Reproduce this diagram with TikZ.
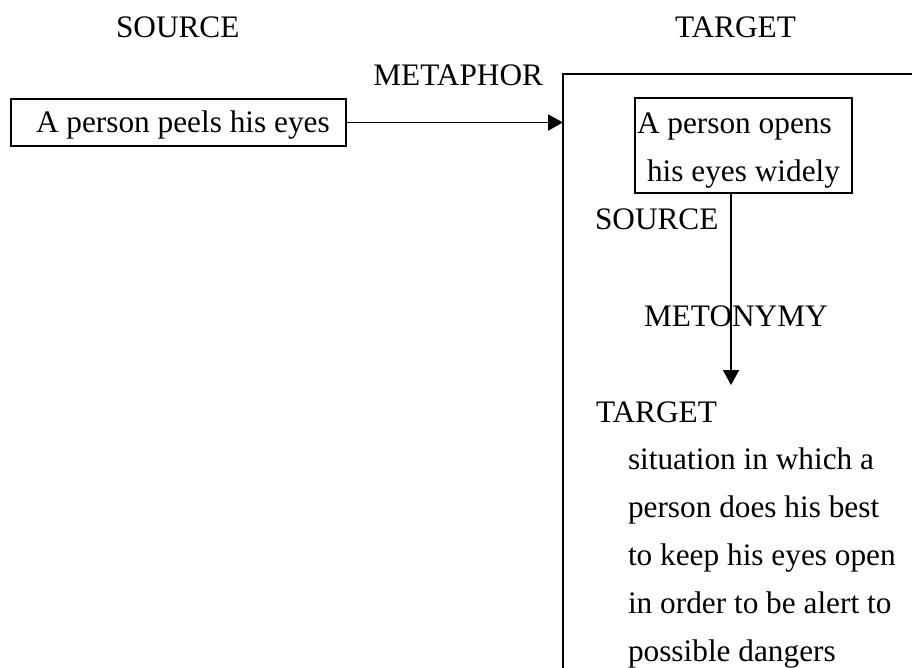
\documentclass[tikz,border=0pt]{standalone}
\usepackage{fontspec}
\setmainfont{Liberation Serif}
\usetikzlibrary{arrows.meta}
\begin{document}
\begin{tikzpicture}[x=1pt,y=-1pt,
  every node/.style={font=\fontsize{31.3}{37}\selectfont, inner sep=0pt, outer sep=0pt},
  lbl/.style={anchor=base west},
  lble/.style={anchor=base east},
  boxnode/.style={draw, line width=1.8pt, anchor=north west},
  frame/.style={line width=1.8pt},
  conn/.style={line width=1.8pt, -{Triangle[length=15pt,width=16pt]}},
  ]
\useasboundingbox (0,0) rectangle (912,668);
\clip (0,0) rectangle (912,668);
% headings
\node[lbl] (hsrc) at (116,38) {SOURCE};
\node[lbl] (htgt) at (675,38) {TARGET};
\node[lble] (meta) at (543,86) {METAPHOR};
% source box
\node[boxnode, minimum width=335pt, minimum height=47pt] (srcbox) at (11,99) {};
\node[lbl] (srctext) at (36,133) {A person peels his eyes};
% target frame (open to the right and bottom)
\coordinate (ftl) at (563,74);
\coordinate (ftr) at (916,74);
\coordinate (fbl) at (563,672);
\draw[frame] (ftr) -- (ftl) -- (fbl);
% metaphor arrow
\draw[conn] (srcbox.east) -- (ftl |- srcbox.east);
% inner box
\node[boxnode, minimum width=217pt, minimum height=95pt] (inbox) at (635,98) {};
\node[lbl] (in1) at (637,134) {A person opens};
\node[lbl] (in2) at (647,182) {his eyes widely};
% metonymy
\node[lbl] (isrc) at (595,230) {SOURCE};
\node[lbl] (meto) at (644,326) {METONYMY};
\node[lbl] (itgt) at (596,422) {TARGET};
\coordinate (mtip) at (731,385);
\draw[conn] (inbox.south -| mtip) -- (mtip);
% target description
\node[lbl] (t1) at (628,469) {situation in which a};
\node[lbl] (t2) at (628,517) {person does his best};
\node[lbl] (t3) at (628,565) {to keep his eyes open};
\node[lbl] (t4) at (628,613) {in order to be alert to};
\node[lbl] (t5) at (628,661) {possible dangers};
\end{tikzpicture}
\end{document}
